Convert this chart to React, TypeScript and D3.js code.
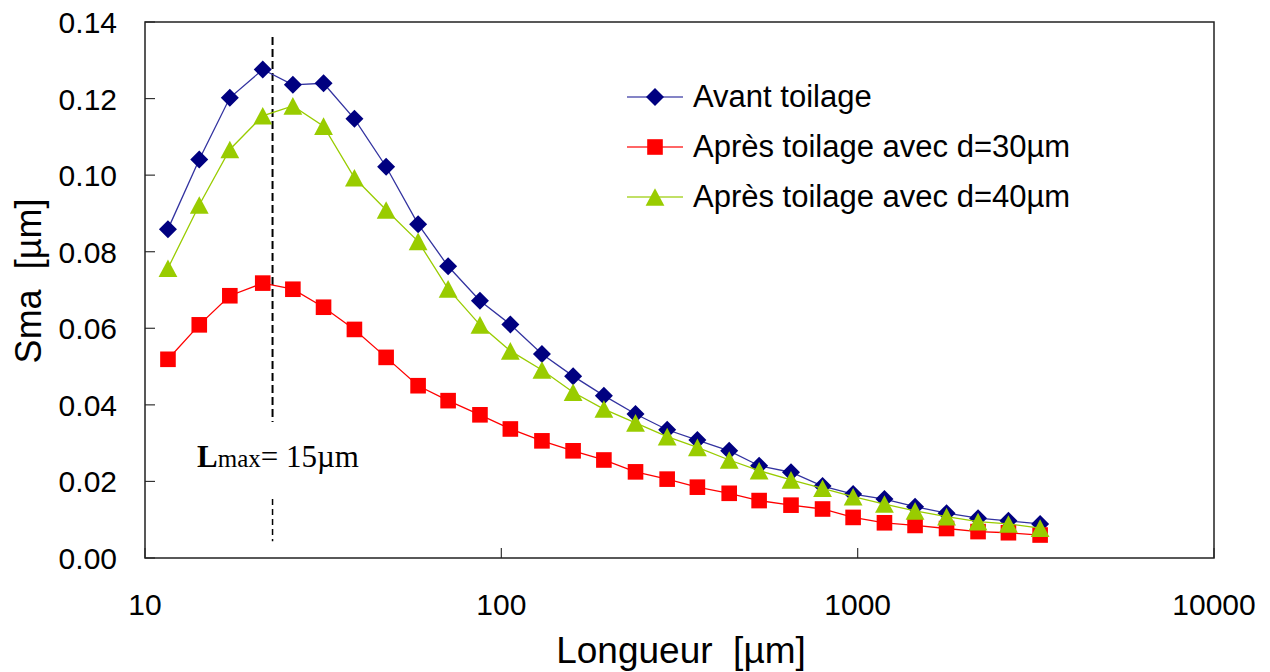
import React from "react";
import * as d3 from "d3";

const lengths = [11.6, 14.2, 17.3, 21.4, 26, 31.7, 38.7, 47.5, 58.4, 70.9, 87.1, 106, 130, 159, 194, 238, 292, 355, 436, 529, 650, 797, 971, 1189, 1449, 1776, 2177, 2649, 3251];

const avant = [0.0859, 0.1041, 0.1202, 0.1276, 0.1236, 0.1240, 0.1147, 0.1022, 0.0872, 0.0762, 0.0672, 0.0610, 0.0533, 0.0475, 0.0424, 0.0376, 0.0335, 0.0308, 0.0280, 0.0241, 0.0224, 0.0188, 0.0167, 0.0154, 0.0134, 0.0117, 0.0104, 0.0097, 0.0089];

const apres30 = [0.0519, 0.0609, 0.0685, 0.0718, 0.0702, 0.0655, 0.0597, 0.0524, 0.0450, 0.0411, 0.0374, 0.0337, 0.0306, 0.0280, 0.0256, 0.0225, 0.0206, 0.0185, 0.0169, 0.0150, 0.0138, 0.0128, 0.0106, 0.0092, 0.0085, 0.0077, 0.0069, 0.0066, 0.0060];

const apres40 = [0.0757, 0.0922, 0.1067, 0.1155, 0.1181, 0.1128, 0.0993, 0.0909, 0.0827, 0.0703, 0.0609, 0.0541, 0.0491, 0.0433, 0.0389, 0.0353, 0.0317, 0.0289, 0.0256, 0.0228, 0.0204, 0.0182, 0.0160, 0.0141, 0.0123, 0.0108, 0.0095, 0.0089, 0.0078];

const xTicks = [10, 100, 1000, 10000];
const yTicks = [0, 0.02, 0.04, 0.06, 0.08, 0.1, 0.12, 0.14];

const seriesNames = ["Avant toilage", "Après toilage avec d=30µm", "Après toilage avec d=40µm"];

const lmaxX = 22.8;
const lmaxLabel = "= 15µm";

const W = 1270;
const H = 672;
const M = { left: 145, right: 1214, top: 22, bottom: 558 };
const SANS = "'Liberation Sans', Arial, sans-serif";
const SERIF = "'Liberation Serif', 'Times New Roman', serif";

function Marker({ kind, x, y }: { kind: string; x: number; y: number }) {
  if (kind === "diamond") {
    const r = 9;
    return <path d={`M${x},${y - r}L${x + r},${y}L${x},${y + r}L${x - r},${y}Z`} fill="#000080" />;
  }
  if (kind === "square") {
    const s = 7.8;
    return <rect x={x - s} y={y - s} width={2 * s} height={2 * s} fill="#FF0000" />;
  }
  const hw = 9.4;
  const hh = 8.8;
  return <path d={`M${x},${y - hh}L${x + hw},${y + hh}L${x - hw},${y + hh}Z`} fill="#99CC00" />;
}

export default function App() {
  const x = d3.scaleLog().domain([10, 10000]).range([M.left, M.right]);
  const y = d3.scaleLinear().domain([0, 0.14]).range([M.bottom, M.top]);

  const series = [
    { name: seriesNames[0], values: avant, line: "#3333A0", kind: "diamond" },
    { name: seriesNames[1], values: apres30, line: "#FF0000", kind: "square" },
    { name: seriesNames[2], values: apres40, line: "#99CC00", kind: "triangle" },
  ];

  const lineGen = d3
    .line<[number, number]>()
    .x((d) => x(d[0]))
    .y((d) => y(d[1]));

  const lx = x(lmaxX);

  return (
    <svg width={W} height={H} style={{ position: "absolute", left: 0, top: 0, background: "#fff" }}>
      <rect x={0} y={0} width={W} height={H} fill="#fff" />
      {yTicks.map((t) => (
        <g key={"y" + t}>
          <line x1={M.left} x2={M.left + 10} y1={y(t)} y2={y(t)} stroke="#333" strokeWidth={1.2} />
          <text x={117} y={y(t) + 11} textAnchor="end" fontFamily={SANS} fontSize={30} fill="#000">
            {d3.format(".2f")(t)}
          </text>
        </g>
      ))}
      {xTicks.map((t) => (
        <g key={"x" + t}>
          <line x1={x(t)} x2={x(t)} y1={M.bottom} y2={M.bottom - 10} stroke="#333" strokeWidth={1.2} />
          <text x={x(t)} y={615} textAnchor="middle" fontFamily={SANS} fontSize={30} fill="#000">
            {String(t)}
          </text>
        </g>
      ))}
      <rect
        x={M.left}
        y={M.top}
        width={M.right - M.left}
        height={M.bottom - M.top}
        fill="none"
        stroke="#222"
        strokeWidth={1.5}
      />
      <line x1={lx} x2={lx} y1={y(0.1361)} y2={y(0.0355)} stroke="#000" strokeWidth={2} strokeDasharray="8,4" />
      <line x1={lx} x2={lx} y1={y(0.0154)} y2={y(0.0044)} stroke="#000" strokeWidth={1.5} strokeDasharray="6,4" />
      <text x={197} y={467} fontFamily={SERIF} fill="#000">
        <tspan fontWeight="bold" fontSize={31}>L</tspan>
        <tspan fontSize={25}>max</tspan>
        <tspan fontSize={31}>{lmaxLabel}</tspan>
      </text>
      {series.map((s) => {
        const pts: [number, number][] = s.values.map((v, i) => [lengths[i], v]);
        return (
          <g key={s.name}>
            <path d={lineGen(pts) || ""} fill="none" stroke={s.line} strokeWidth={1.3} />
            {pts.map((p, i) => (
              <Marker key={i} kind={s.kind} x={x(p[0])} y={y(p[1])} />
            ))}
          </g>
        );
      })}
      {series.map((s, i) => {
        const cy = 97 + i * 50;
        return (
          <g key={"lg" + i}>
            <line x1={627} x2={683} y1={cy} y2={cy} stroke={s.line} strokeWidth={1.3} opacity={0.8} />
            <Marker kind={s.kind} x={655} y={cy} />
            <text x={693} y={cy + 10} fontFamily={SANS} fontSize={31} fill="#000">
              {s.name}
            </text>
          </g>
        );
      })}
      <text x={681} y={663} textAnchor="middle" fontFamily={SANS} fontSize={37} fill="#000" xmlSpace="preserve">
        Longueur  [µm]
      </text>
      <text
        transform={`translate(41,281) rotate(-90)`}
        textAnchor="middle"
        fontFamily={SANS}
        fontSize={36}
        fill="#000"
        xmlSpace="preserve"
      >
        Sma  [µm]
      </text>
    </svg>
  );
}
